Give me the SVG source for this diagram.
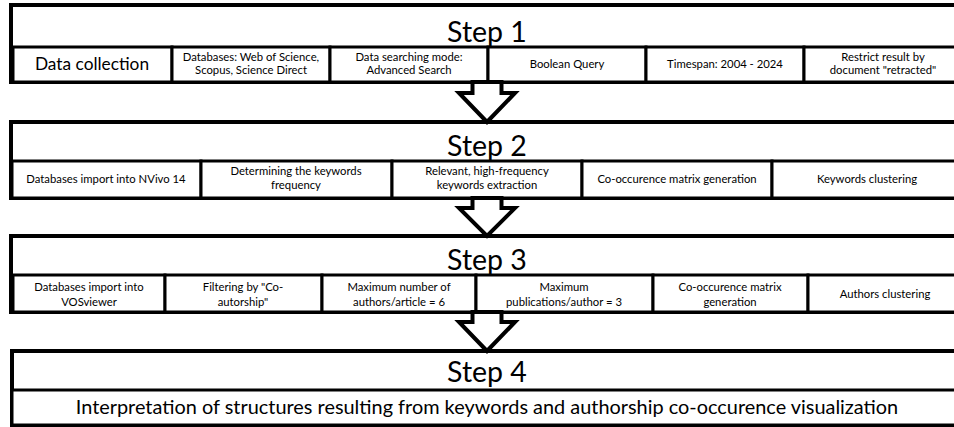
<svg xmlns="http://www.w3.org/2000/svg" width="954" height="427" viewBox="0 0 954 427">
<style>
.box{fill:#fff;stroke:#000;stroke-width:4}
.cell{fill:#fff;stroke:#000;stroke-width:3}
.arrow{fill:#fff;stroke:#000;stroke-width:4;stroke-linejoin:miter}
text{font-family:Lato,"Open Sans",sans-serif;fill:#000;text-anchor:middle}
.title{font-size:28.5px}
.t{font-size:11.3px}
.big{font-size:17.3px}
.row4{font-size:19.9px}
</style>
<rect width="954" height="427" fill="#fff"/>
<g id="step1">
<rect class="box" x="11" y="5" width="952" height="77"/>
<text class="title" x="487" y="42">Step 1</text>
<rect class="cell" x="13" y="47" width="159" height="35"/>
<rect class="cell" x="172" y="47" width="158" height="35"/>
<rect class="cell" x="330" y="47" width="158" height="35"/>
<rect class="cell" x="488" y="47" width="158" height="35"/>
<rect class="cell" x="646" y="47" width="158" height="35"/>
<rect class="cell" x="804" y="47" width="159" height="35"/>
<text class="big" x="92" y="70">Data collection</text>
<text class="t" x="251" y="61">Databases: Web of Science,</text>
<text class="t" x="251" y="74">Scopus, Science Direct</text>
<text class="t" x="409" y="61">Data searching mode:</text>
<text class="t" x="409" y="74">Advanced Search</text>
<text class="t" x="567" y="68">Boolean Query</text>
<text class="t" x="725" y="68">Timespan: 2004 - 2024</text>
<text class="t" x="883" y="61">Restrict result by</text>
<text class="t" x="883" y="74">document "retracted"</text>
</g>
<g id="step2">
<rect class="box" x="11" y="122" width="952" height="76"/>
<text class="title" x="487" y="156">Step 2</text>
<rect class="cell" x="12" y="161" width="189" height="37"/>
<rect class="cell" x="201" y="161" width="191" height="37"/>
<rect class="cell" x="392" y="161" width="190" height="37"/>
<rect class="cell" x="582" y="161" width="190" height="37"/>
<rect class="cell" x="772" y="161" width="191" height="37"/>
<text class="t" x="106" y="183">Databases import into NVivo 14</text>
<text class="t" x="296" y="175">Determining the keywords</text>
<text class="t" x="296" y="189">frequency</text>
<text class="t" x="487" y="175">Relevant, high-frequency</text>
<text class="t" x="487" y="189">keywords extraction</text>
<text class="t" x="677" y="183">Co-occurence matrix generation</text>
<text class="t" x="867" y="183">Keywords clustering</text>
</g>
<g id="step3">
<rect class="box" x="11" y="236" width="952" height="76"/>
<text class="title" x="487" y="270">Step 3</text>
<rect class="cell" x="13" y="275" width="152" height="37"/>
<rect class="cell" x="165" y="275" width="157" height="37"/>
<rect class="cell" x="322" y="275" width="154" height="37"/>
<rect class="cell" x="476" y="275" width="177" height="37"/>
<rect class="cell" x="653" y="275" width="155" height="37"/>
<rect class="cell" x="808" y="275" width="155" height="37"/>
<text class="t" x="89" y="291">Databases import into</text>
<text class="t" x="89" y="306">VOSviewer</text>
<text class="t" x="243" y="291">Filtering by "Co-</text>
<text class="t" x="243" y="306">autorship"</text>
<text class="t" x="399" y="291">Maximum number of</text>
<text class="t" x="399" y="306">authors/article = 6</text>
<text class="t" x="564" y="291">Maximum</text>
<text class="t" x="564" y="306">publications/author = 3</text>
<text class="t" x="730" y="291">Co-occurence matrix</text>
<text class="t" x="730" y="306">generation</text>
<text class="t" x="885" y="298">Authors clustering</text>
</g>
<g id="step4">
<rect class="box" x="12" y="351" width="951" height="74"/>
<text class="title" x="487" y="382">Step 4</text>
<rect class="cell" x="12" y="390" width="951" height="35"/>
<text class="row4" x="487" y="414">Interpretation of structures resulting from keywords and authorship co-occurence visualization</text>
</g>
<g id="connectors">
<path class="arrow" d="M472.5,82 V93 H459 L487,122 L515,93 H501.5 V82 Z"/>
<path class="arrow" d="M472.5,198 V208 H459 L487,236 L515,208 H501.5 V198 Z"/>
<path class="arrow" d="M472.5,312 V322 H459 L487,351 L515,322 H501.5 V312 Z"/>
</g>
</svg>
